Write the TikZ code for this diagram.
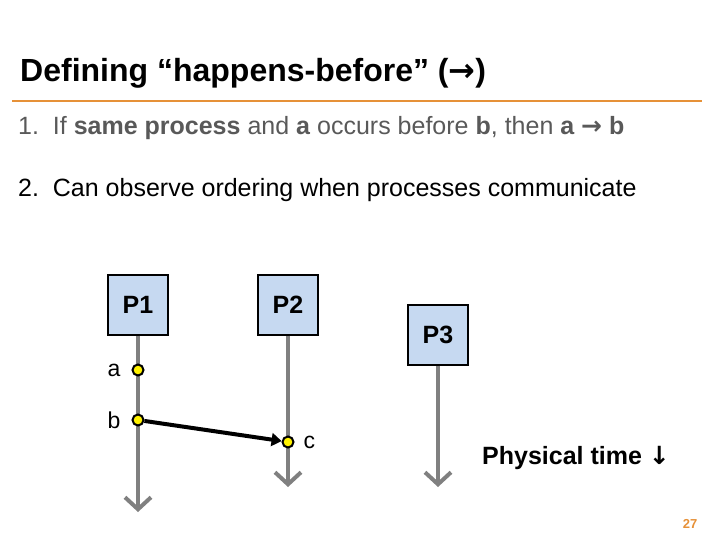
\documentclass[tikz,border=0pt]{standalone}
\usepackage{fontspec}
\setmainfont{Liberation Sans}
\newfontfamily\dejavu{DejaVu Sans}
\usetikzlibrary{arrows.meta}
\definecolor{boxblue}{RGB}{198,217,241}
\definecolor{orng}{RGB}{230,145,56}
\definecolor{txtgray}{RGB}{89,89,89}
\begin{document}
\begin{tikzpicture}[x=1pt,y=-1pt,
  proc/.style={draw=black,line width=2pt,fill=boxblue,minimum width=60pt,minimum height=60pt,inner sep=0pt,font=\fontsize{25}{28}\selectfont\bfseries},
  tline/.style={draw=gray,line width=4pt,-{Straight Barb[length=12pt,width=26pt]}},
  ev/.style={circle,draw=black,line width=2pt,fill=yellow,minimum size=11pt,inner sep=0pt},
  lbl/.style={font=\fontsize{23}{26}\selectfont}]
\useasboundingbox (0,0) rectangle (720,540);
\node[anchor=west,inner sep=0pt,font=\fontsize{32}{36}\selectfont\bfseries] (title) at (20,73) {Defining “happens-before” ({\dejavu\bfseries →})};
\coordinate (hl) at (12,101); \coordinate (hr) at (702,101);
\draw[orng,line width=2pt] (hl) -- (hr);
\node[anchor=west,inner sep=0pt,font=\fontsize{25}{28}\selectfont,text=txtgray] (l1) at (18,128) {1.\ \ If \textbf{same process} and \textbf{a} occurs before \textbf{b}, then \textbf{a {\dejavu →} b}};
\node[anchor=west,inner sep=0pt,font=\fontsize{25}{28}\selectfont] (l2) at (18,190) {2.\ \ Can observe ordering when processes communicate};
\node[proc] (p1) at (138,304.5) {P1};
\node[proc] (p2) at (288,304.5) {P2};
\node[proc] (p3) at (438,334.5) {P3};
\coordinate (e1) at (138,512); \coordinate (e2) at (288,487); \coordinate (e3) at (438,487);
\draw[tline] (p1.south) -- (e1);
\draw[tline] (p2.south) -- (e2);
\draw[tline] (p3.south) -- (e3);
\node[ev] (a) at (138,370) {};
\node[ev] (b) at (138,420) {};
\node[ev] (c) at (288,442) {};
\draw[line width=4pt,-{Triangle[length=10pt,width=13pt]}] (b) -- (c);
\node[lbl,anchor=east] (la) at (124,370) {a};
\node[lbl,anchor=east] (lb) at (124,420) {b};
\node[lbl,anchor=west] (lc) at (300,442) {c};
\node[anchor=west,inner sep=0pt,font=\fontsize{25}{28}\selectfont\bfseries] (pt) at (482,458) {Physical time {\dejavu\bfseries ↓}};
\node[text=orng,font=\fontsize{13}{15}\selectfont\bfseries] (pg) at (690,524) {27};
\end{tikzpicture}
\end{document}
